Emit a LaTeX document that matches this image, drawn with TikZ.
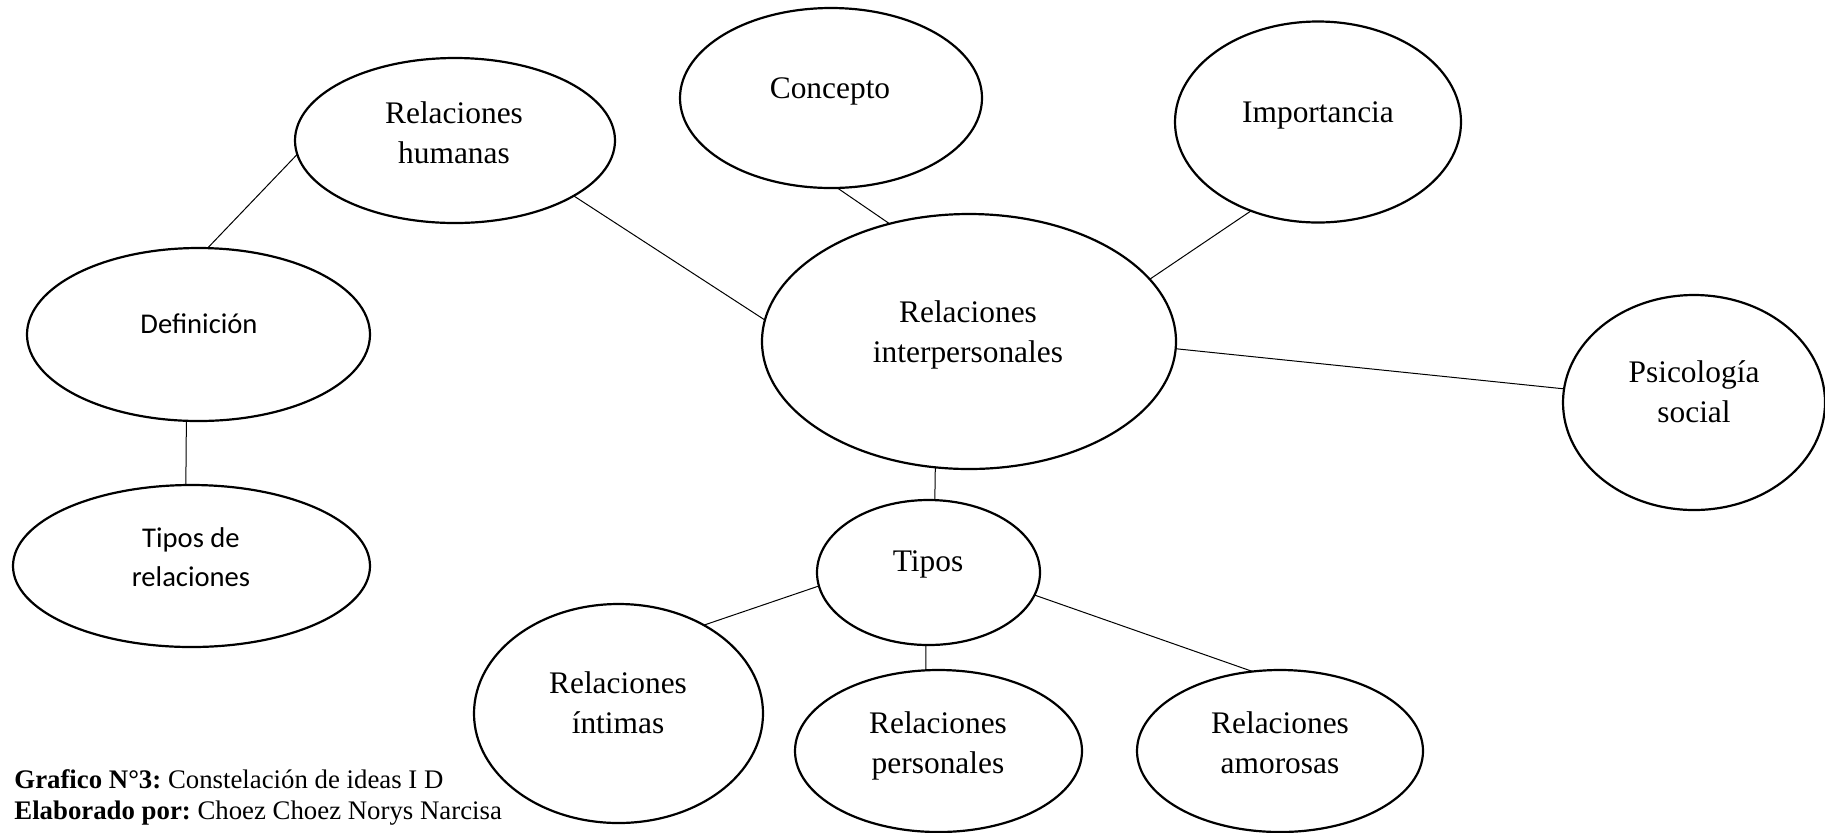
\documentclass[tikz,border=0pt]{standalone}
\usepackage{fontspec}
\setmainfont{Liberation Serif}
\newfontfamily\calfont{Carlito}
\usetikzlibrary{shapes.geometric}
\newcommand\lbfont{\fontsize{15.7pt}{20pt}\selectfont}
\newcommand\cbfont{\calfont\fontsize{14.3pt}{19.5pt}\selectfont}
\newcommand\capfont{\fontsize{13.4pt}{15.5pt}\selectfont}
\tikzset{
  bub/.style={draw, ellipse, line width=1.1pt, inner sep=0pt, outer sep=0pt},
  lab/.style={font=\lbfont, align=center, anchor=base, inner sep=0pt},
  clab/.style={font=\cbfont, align=center, anchor=base, inner sep=0pt},
  con/.style={line width=0.5pt}
}
\begin{document}
\begin{tikzpicture}[x=0.5pt,y=-0.5pt]
\useasboundingbox (0,0) rectangle (1825,832);
\fill[white] (0,0) rectangle (1825,832);
% ellipses
\node[bub, minimum width=160pt, minimum height=82.5pt] (hum) at (455,140.5) {};
\node[bub, minimum width=151pt, minimum height=90pt] (conc) at (831,98) {};
\node[bub, minimum width=143pt, minimum height=100.5pt] (imp) at (1318,122) {};
\node[bub, minimum width=207pt, minimum height=127.5pt] (inter) at (969,341.5) {};
\node[bub, minimum width=131pt, minimum height=107.5pt] (psi) at (1694,402.5) {};
\node[bub, minimum width=171.5pt, minimum height=86.5pt] (def) at (198.5,334.5) {};
\node[bub, minimum width=178.5pt, minimum height=81pt] (tdr) at (191.5,566) {};
\node[bub, minimum width=111.5pt, minimum height=72.5pt] (tipos) at (928.5,572.5) {};
\node[bub, minimum width=144.5pt, minimum height=109.5pt] (int) at (618.5,713.5) {};
\node[bub, minimum width=143.5pt, minimum height=81pt] (pers) at (938.5,751) {};
\node[bub, minimum width=143pt, minimum height=81pt] (amor) at (1280,751) {};
% labels (base anchor = baseline of the last line)
\node[lab] (humt) at (454,163) {Relaciones\\humanas};
\node[lab] (conct) at (830,98) {Concepto};
\node[lab] (impt) at (1318,122) {Importancia};
\node[lab] (intert) at (968,362) {Relaciones\\interpersonales};
\node[lab] (psit) at (1694,422) {Psicología\\social};
\node[clab] (deft) at (199,333) {Definición};
\node[clab] (tdrt) at (191,586) {Tipos de\\relaciones};
\node[lab] (tipost) at (928,571) {Tipos};
\node[lab] (intt) at (618,733) {Relaciones\\íntimas};
\node[lab] (perst) at (938,773) {Relaciones\\personales};
\node[lab] (amort) at (1280,773) {Relaciones\\amorosas};
% caption
\node[font=\capfont, align=left, anchor=base west, inner sep=0pt] (cap) at (14,819)
  {\textbf{Grafico N°3:}~Constelación de ideas I D\\\textbf{Elaborado por:}~Choez Choez Norys Narcisa};
% connectors
\draw[con] (hum.185) -- (def.84);
\draw[con] (def.262) -- (tdr.94);
\draw[con] (hum.335) -- (inter.174.6);
\draw[con] (conc.274) -- (inter.124);
\draw[con] (imp.233) -- (inter.19.6);
\draw[con] (inter.358) -- (psi.174.5);
\draw[con] (inter.255) -- (tipos.85);
\draw[con] (tipos.187) -- (int.46);
\draw[con] (tipos.268) -- (pers.99.5);
\draw[con] (tipos.348) -- (amor.109);
\end{tikzpicture}
\end{document}
